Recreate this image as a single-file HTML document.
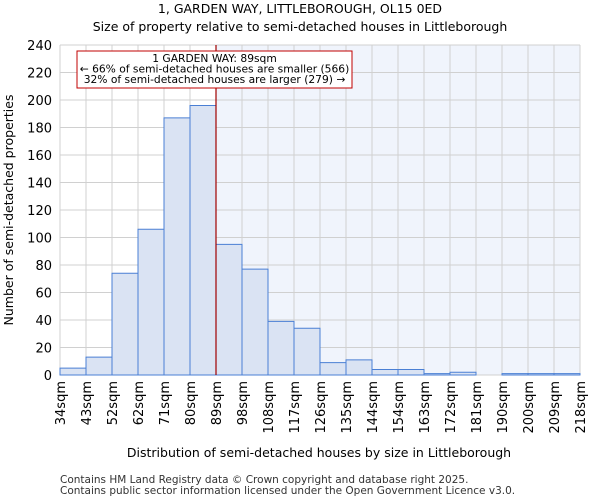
<!DOCTYPE html>
<html><head><meta charset="utf-8"><style>
body{margin:0;background:#fff;font-family:"DejaVu Sans","Liberation Sans",sans-serif}
</style></head><body>
<svg width="600" height="500" xmlns="http://www.w3.org/2000/svg" font-family="DejaVu Sans, Liberation Sans, sans-serif">
<text x="300" y="13" text-anchor="middle" font-size="12.5">1, GARDEN WAY, LITTLEBOROUGH, OL15 0ED</text>
<text x="300" y="31" text-anchor="middle" font-size="12.5">Size of property relative to semi-detached houses in Littleborough</text>
<g id="plot"></g>
<text x="319" y="457" text-anchor="middle" font-size="12.5">Distribution of semi-detached houses by size in Littleborough</text>
<text transform="translate(13,210) rotate(-90)" text-anchor="middle" font-size="12.5">Number of semi-detached properties</text>
<text x="60" y="483" font-size="10.5" fill="#333">Contains HM Land Registry data © Crown copyright and database right 2025.</text>
<text x="60" y="494" font-size="10.5" fill="#333">Contains public sector information licensed under the Open Government Licence v3.0.</text>
</svg>
<script>
const categories=["34sqm","43sqm","52sqm","62sqm","71sqm","80sqm","89sqm","98sqm","108sqm","117sqm","126sqm","135sqm","144sqm","154sqm","163sqm","172sqm","181sqm","190sqm","200sqm","209sqm","218sqm"];
const counts=[5,13,74,106,187,196,95,77,39,34,9,11,4,4,1,2,0,1,1,1];
const yTicks=[0,20,40,60,80,100,120,140,160,180,200,220,240];
const markerBin=6;
const X0=60,X1=580,Y0=375,Y1=45,YMAX=240;
const bw=(X1-X0)/counts.length;
const xs=i=>X0+i*bw;
const ys=v=>Y0-(v/YMAX)*(Y0-Y1);
const NS="http://www.w3.org/2000/svg";
const g=document.getElementById('plot');
function mk(t,a){const e=document.createElementNS(NS,t);for(const k in a)e.setAttribute(k,a[k]);g.appendChild(e);return e;}
let bg=mk('rect',{x:xs(markerBin),y:Y1,width:X1-xs(markerBin),height:Y0-Y1,fill:'#f0f4fc'});


yTicks.forEach(t=>{
 let l=mk('line',{x1:X0,x2:X1,y1:ys(t),y2:ys(t),stroke:'#d0d0d0'});
 
 
 let tx=mk('text',{x:X0-8,y:ys(t)+5,'text-anchor':'end','font-size':'13'});
 tx.textContent=t;
 
 
});
categories.forEach((c,i)=>{
 let l=mk('line',{x1:xs(i),x2:xs(i),y1:Y1,y2:Y0,stroke:'#d0d0d0'});
 
 
 let tx=mk('text',{transform:`translate(${xs(i)+5},381) rotate(-90)`,'text-anchor':'end','font-size':'13'});
 tx.textContent=c;
 
 
});
counts.forEach((v,i)=>{
 if(v<=0)return;
 let r=mk('rect',{x:xs(i),y:ys(v),width:bw,height:Y0-ys(v),fill:'#dae3f3',stroke:'#4a7fd4','stroke-width':1});
 
 
});
let ml=mk('line',{x1:xs(markerBin),x2:xs(markerBin),y1:Y1,y2:Y0,stroke:'#a00000','stroke-width':1.2});


let box=mk('rect',{x:77,y:51,width:275,height:37,fill:'#fff',stroke:'#c00000'});


["1 GARDEN WAY: 89sqm","← 66% of semi-detached houses are smaller (566)","32% of semi-detached houses are larger (279) →"].forEach((s,k)=>{
 let t=mk('text',{x:214.5,y:62+k*10.5,'text-anchor':'middle','font-size':'10.7'});
 t.textContent=s;
 
 
});
</script>
</body></html>
